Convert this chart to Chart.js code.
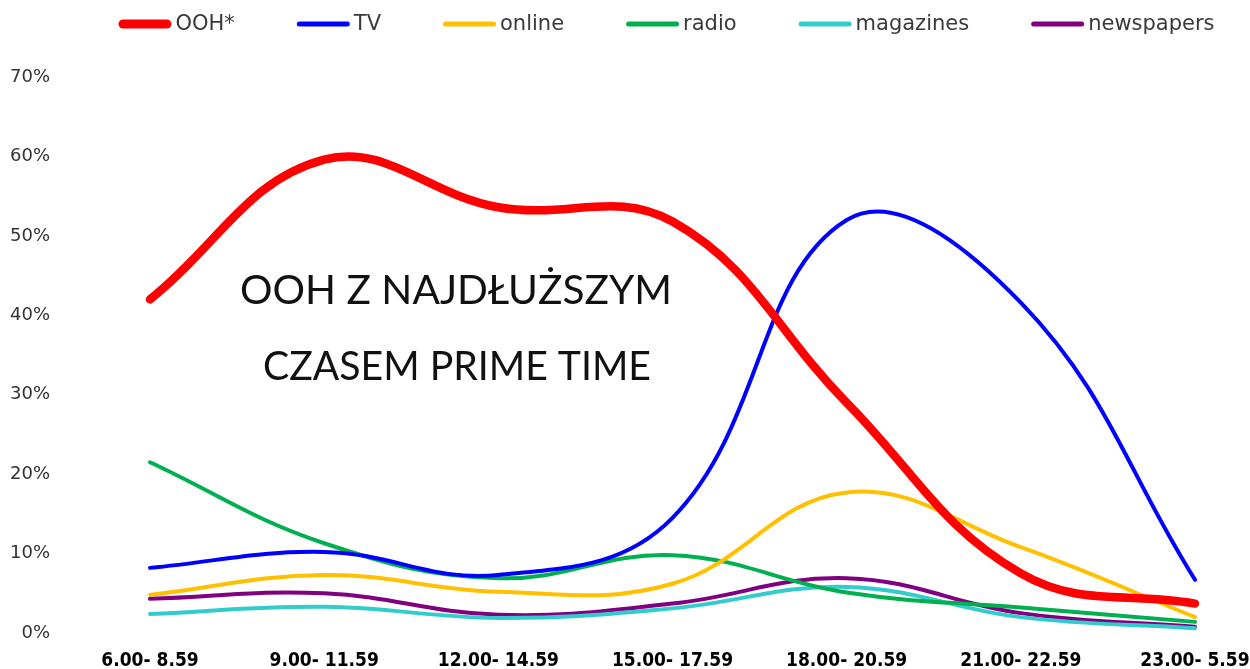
<!DOCTYPE html>
<html><head><meta charset="utf-8">
<script src="https://cdn.jsdelivr.net/npm/chart.js@4/dist/chart.umd.min.js"></script>
<style>html,body{margin:0;padding:0;background:#fff;overflow:hidden;}</style>
</head><body>
<canvas id="c" width="1250" height="669"></canvas>
<script>
const categories = ['6.00- 8.59','9.00- 11.59','12.00- 14.59','15.00- 17.59','18.00- 20.59','21.00- 22.59','23.00- 5.59'];
const seriesNames = ['OOH*','TV','online','radio','magazines','newspapers'];
const oohValues = [42, 59.6, 53.6, 51.8, 29, 7.5, 3.7];
const tvValues = [8.2, 10.2, 7.3, 14.5, 52, 41.6, 6.7];
const onlineValues = [4.8, 7.3, 5.2, 6.2, 17.7, 10.8, 2.0];
const radioValues = [21.5, 11.3, 6.9, 9.8, 5.1, 3.2, 1.4];
const magazinesValues = [2.4, 3.3, 1.9, 3.1, 5.8, 2.0, 0.6];
const newspapersValues = [4.3, 5.0, 2.3, 3.7, 6.9, 2.5, 0.8];
const yTicks = [0, 10, 20, 30, 40, 50, 60, 70];
const annotationLines = ['OOH Z NAJDŁUŻSZYM', 'CZASEM PRIME TIME'];

const colors = ['#ff0000', '#0000ff', '#ffc000', '#00b050', '#33cccc', '#800080'];
const widths = [8.5, 4, 4, 4, 4, 4];
const legendWidths = [9, 5, 5, 5, 5, 5];
const allValues = [oohValues, tvValues, onlineValues, radioValues, magazinesValues, newspapersValues];

const datasets = seriesNames.map((name, i) => ({
  label: name,
  data: allValues[i],
  borderColor: colors[i],
  backgroundColor: colors[i],
  borderWidth: widths[i],
  borderCapStyle: 'round',
  borderJoinStyle: 'round',
  pointRadius: 0,
  pointHoverRadius: 0,
  tension: 0.4,
  fill: false,
  order: i === 0 ? 0 : 1
}));

const annotationPlugin = {
  id: 'annot',
  beforeDatasetsDraw(chart) {
    const ctx = chart.ctx;
    const specs = [
      {text: annotationLines[0], cx: 456, cy: 291, w: 432},
      {text: annotationLines[1], cx: 457, cy: 367, w: 388}
    ];
    ctx.save();
    ctx.fillStyle = '#111';
    ctx.font = '40px "Lato", "Open Sans", sans-serif';
    ctx.textAlign = 'center';
    ctx.textBaseline = 'middle';
    specs.forEach(s => {
      const mw = ctx.measureText(s.text).width;
      const sx = s.w / mw;
      ctx.save();
      ctx.translate(s.cx, s.cy);
      ctx.scale(sx, 1);
      ctx.fillText(s.text, 0, 0);
      ctx.restore();
    });
    ctx.restore();
  }
};

const legendPlugin = {
  id: 'customLegend',
  afterDraw(chart) {
    const ctx = chart.ctx;
    ctx.save();
    ctx.font = '21px "DejaVu Sans", sans-serif';
    ctx.textBaseline = 'middle';
    ctx.textAlign = 'left';
    const lineLen = 53, gapText = 4, gapItem = 62;
    const items = chart.data.datasets.map((ds, i) => ({label: ds.label, color: ds.borderColor, lw: legendWidths[i], tw: ctx.measureText(ds.label).width}));
    let total = 0;
    items.forEach((it, i) => { total += lineLen + gapText + it.tw + (i < items.length - 1 ? gapItem : 0); });
    let x = 666.5 - total / 2;
    const y = 24;
    items.forEach(it => {
      ctx.strokeStyle = it.color;
      ctx.lineWidth = it.lw;
      ctx.lineCap = 'round';
      ctx.beginPath();
      ctx.moveTo(x + it.lw / 2, y);
      ctx.lineTo(x + lineLen - it.lw / 2, y);
      ctx.stroke();
      ctx.fillStyle = '#3a3a3a';
      ctx.fillText(it.label, x + lineLen + gapText, y + 1);
      x += lineLen + gapText + it.tw + gapItem;
    });
    ctx.restore();
  }
};

new Chart(document.getElementById('c'), {
  type: 'line',
  data: {labels: categories, datasets},
  options: {
    responsive: false,
    devicePixelRatio: 1,
    animation: false,
    layout: {padding: {top: 77, right: 55, bottom: 0, left: 0}},
    plugins: {legend: {display: false}, tooltip: {enabled: false}, title: {display: false}},
    scales: {
      x: {
        grid: {display: false, drawTicks: false},
        border: {display: false},
        offset: false,
        ticks: {
          color: '#000',
          padding: 17,
          maxRotation: 0,
          autoSkip: false,
          font: {family: '"Liberation Sans Narrow", "DejaVu Sans Condensed", sans-serif', size: 19, weight: 'bold'}
        },
        afterFit(s) { s.height = 36; s.paddingLeft = 0; s.paddingRight = 0; }
      },
      y: {
        min: 0, max: 70,
        grid: {display: false, drawTicks: false},
        border: {display: false},
        afterBuildTicks(s) { s.ticks = yTicks.map(v => ({value: v})); },
        ticks: {
          color: '#333',
          padding: 100,
          font: {family: '"DejaVu Sans", sans-serif', size: 18},
          callback: v => v + '%'
        },
        afterFit(s) { s.width = 150; s.paddingTop = 0; s.paddingBottom = 0; }
      }
    }
  },
  plugins: [annotationPlugin, legendPlugin]
});
</script>
</body></html>
